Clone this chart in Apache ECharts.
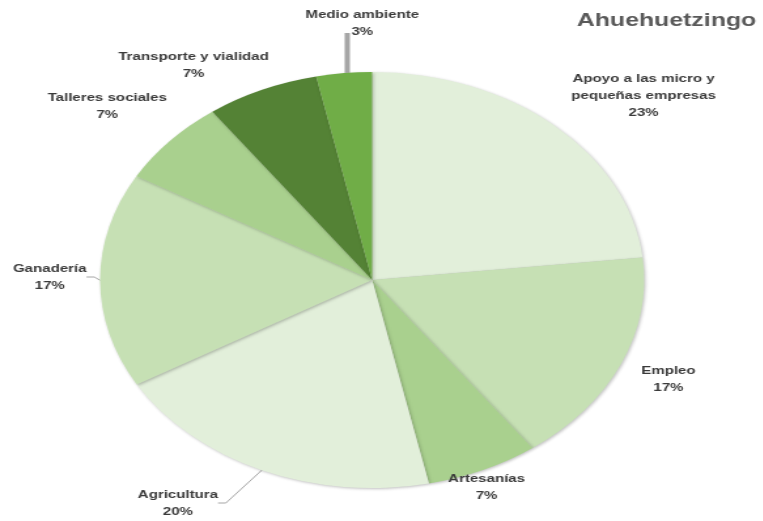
<!DOCTYPE html>
<html>
<head>
<meta charset="utf-8">
<script src="https://cdn.jsdelivr.net/npm/echarts@6/dist/echarts.min.js"></script>
<style>
html,body{margin:0;padding:0;background:#fff;overflow:hidden;width:763px;height:521px;}
#wrap{width:763px;height:521px;overflow:hidden;position:relative;}
#chart{width:584px;height:521px;transform:scaleX(1.308);transform-origin:0 0;position:absolute;left:0;top:0;}
</style>
</head>
<body>
<div id="wrap"><div id="chart"></div></div>
<script>
// Data (share of each category, %)
const categories = [
  'Apoyo a las micro y\npequeñas empresas',
  'Empleo',
  'Artesanías',
  'Agricultura',
  'Ganadería',
  'Talleres sociales',
  'Transporte y vialidad',
  'Medio ambiente'
];
const shares = [23.3, 16.7, 6.7, 20.0, 16.7, 6.7, 6.7, 3.3];
const colors = ['#e2efda', '#c6e0b4', '#a9d08e', '#e2efda', '#c6e0b4', '#a9d08e', '#548235', '#70ad47'];
const titleText = 'Ahuehuetzingo';

// label anchor (centre of label block) in unscaled chart pixels
const labelPos = [
  [492, 96], [511, 379], [372, 487], [136, 503],
  [38, 277], [82, 106], [148, 65], [277, 23]
];
const withLine = [false, false, false, true, true, false, false, true];

const CX = 284.5, CY = 280, R = 208;
const chart = echarts.init(document.getElementById('chart'), null, {renderer: 'canvas'});
const FONT = "'Liberation Sans', Arial, sans-serif";

const data = categories.map((c, i) => ({
  name: c,
  value: shares[i],
  itemStyle: {color: colors[i]},
  labelLine: withLine[i] ? {
    show: true,
    length: 6, length2: 6,
    lineStyle: {color: '#a6a6a6', width: i === 7 ? 4 : 1}
  } : {show: false}
}));

chart.setOption({
  animation: false,
  title: {
    text: titleText,
    left: 436, top: 6,
    textStyle: {fontFamily: FONT, fontSize: 19, fontWeight: 'bold', color: '#595959'}
  },
  series: [{
    type: 'pie',
    center: [CX, CY],
    radius: ['0%', R],
    startAngle: 90,
    clockwise: true,
    avoidLabelOverlap: false,
    itemStyle: {
      borderWidth: 0,
      shadowBlur: 3,
      shadowColor: 'rgba(0,0,0,0.25)',
      shadowOffsetX: 1,
      shadowOffsetY: 1
    },
    label: {
      show: true,
      position: 'outside',
      fontFamily: FONT,
      fontSize: 11.5,
      fontWeight: 'bold',
      color: '#3a3a3a',
      lineHeight: 17,
      align: 'center',
      formatter: p => p.name + '\n' + Math.round(p.value) + '%'
    },
    labelLine: {show: false},
    labelLayout: function (params) {
      const i = params.dataIndex;
      const pos = labelPos[i];
      const out = {x: pos[0], y: pos[1], align: 'center', verticalAlign: 'middle'};
      if (i === 7) {
        const lx = pos[0] - 11.5;
        const top = CY - Math.sqrt(R * R - (lx - CX) * (lx - CX));
        const yb = pos[1] + 10;
        out.labelLinePoints = [[lx, yb], [lx, (yb + top) / 2], [lx, top]];
      }
      return out;
    },
    emphasis: {disabled: true},
    data: data
  }]
});
</script>
</body>
</html>
